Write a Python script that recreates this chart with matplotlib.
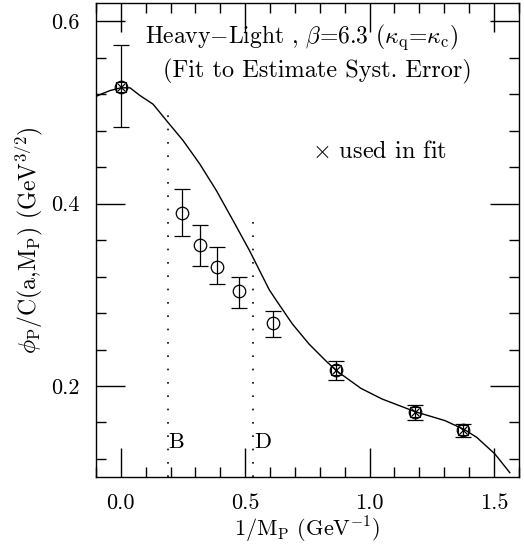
import numpy as np
import matplotlib
matplotlib.use('Agg')
import matplotlib.pyplot as plt
from matplotlib.ticker import MultipleLocator

plt.rcParams['font.family'] = ['cmr10', 'DejaVu Serif']
plt.rcParams['mathtext.fontset'] = 'cm'
plt.rcParams['axes.formatter.use_mathtext'] = True
plt.rcParams['axes.unicode_minus'] = False

# points used in the fit (circle + cross)
fit_x = [0.0, 0.864, 1.182, 1.377]
fit_y = [0.528, 0.2175, 0.1718, 0.1518]
fit_lo = [0.484, 0.2066, 0.163, 0.1444]
fit_hi = [0.574, 0.227, 0.179, 0.158]

# points not used in the fit (open circles)
free_x = [0.248, 0.32, 0.386, 0.474, 0.61]
free_y = [0.390, 0.355, 0.331, 0.304, 0.2686]
free_lo = [0.3645, 0.332, 0.3116, 0.2855, 0.254]
free_hi = [0.4157, 0.377, 0.352, 0.320, 0.2825]

# fit curve
curve_x = [-0.1, -0.076, -0.043, 0.0, 0.037, 0.077, 0.13, 0.184, 0.251, 0.317,
           0.384, 0.451, 0.517, 0.597, 0.63, 0.69, 0.757, 0.824, 0.867, 0.965,
           1.05, 1.184, 1.304, 1.384, 1.431, 1.504, 1.564]
curve_y = [0.5175, 0.5204, 0.524, 0.527, 0.527, 0.5186, 0.509, 0.491, 0.469, 0.4437,
           0.4145, 0.3817, 0.3488, 0.3055, 0.292, 0.268, 0.246, 0.2277, 0.2168,
           0.1975, 0.1858, 0.1718, 0.162, 0.1518, 0.1437, 0.1255, 0.105]

# B and D mass markers
mark_x = [0.188, 0.533]
mark_top = [0.497, 0.3905]
mark_lbl = ['B', 'D']

fig = plt.figure(figsize=(5.24, 5.46), dpi=100)
ax = fig.add_axes([0.183, 0.126, 0.807, 0.8685])

ax.plot(curve_x, curve_y, color='black', lw=1.0)

for xv, top, lbl in zip(mark_x, mark_top, mark_lbl):
    ax.plot([xv, xv], [0.1, top], color='black', lw=1.2, ls=(0, (1, 7)))
    ax.text(xv + 0.003, 0.138, lbl, fontsize=16, ha='left', va='center')

ax.errorbar(free_x, free_y,
            yerr=[np.array(free_y) - np.array(free_lo), np.array(free_hi) - np.array(free_y)],
            fmt='o', mfc='none', mec='black', ms=9, mew=0.9,
            ecolor='black', elinewidth=0.9, capsize=6, capthick=0.9)
ax.errorbar(fit_x, fit_y,
            yerr=[np.array(fit_y) - np.array(fit_lo), np.array(fit_hi) - np.array(fit_y)],
            fmt='o', mfc='none', mec='black', ms=9, mew=0.9,
            ecolor='black', elinewidth=0.9, capsize=6, capthick=0.9)
ax.plot(fit_x, fit_y, 's', mfc='none', mec='black', ms=7.5, mew=0.8)
ax.plot(fit_x, fit_y, 'x', color='black', ms=6, mew=0.9)

ax.text(0.097, 0.583, r'Heavy$-$Light , $\beta$=6.3 ($\kappa_{\rm q}$=$\kappa_{\rm c}$)',
        fontsize=17, ha='left', va='center')
ax.text(0.168, 0.545, '(Fit to Estimate Syst. Error)', fontsize=17.5, ha='left', va='center')
ax.text(0.768, 0.457, r'$\times$ used in fit', fontsize=17.5, ha='left', va='center')

ax.set_xlim(-0.1, 1.6)
ax.set_ylim(0.1, 0.62)
ax.xaxis.set_major_locator(MultipleLocator(0.5))
ax.xaxis.set_minor_locator(MultipleLocator(0.1))
ax.yaxis.set_major_locator(MultipleLocator(0.2))
ax.yaxis.set_minor_locator(MultipleLocator(0.04))
ax.xaxis.set_major_formatter(plt.FuncFormatter(lambda v, p: '%.1f' % v))
ax.yaxis.set_major_formatter(plt.FuncFormatter(lambda v, p: '%.1f' % v))
ax.tick_params(which='both', direction='in', top=True, right=True, labelsize=16, width=1.0)
ax.tick_params(which='major', length=21, pad=12)
ax.tick_params(which='minor', length=7)
for s in ax.spines.values():
    s.set_linewidth(1.0)

ax.set_xlabel(r'1/M$_{\rm P}$ (GeV$^{-1}$)', fontsize=16, labelpad=1)
ax.set_ylabel(r'$\phi_{\rm P}$/C(a,M$_{\rm P}$) (GeV$^{3/2}$)', fontsize=17, labelpad=4)

fig.savefig('out.png', dpi=100)
